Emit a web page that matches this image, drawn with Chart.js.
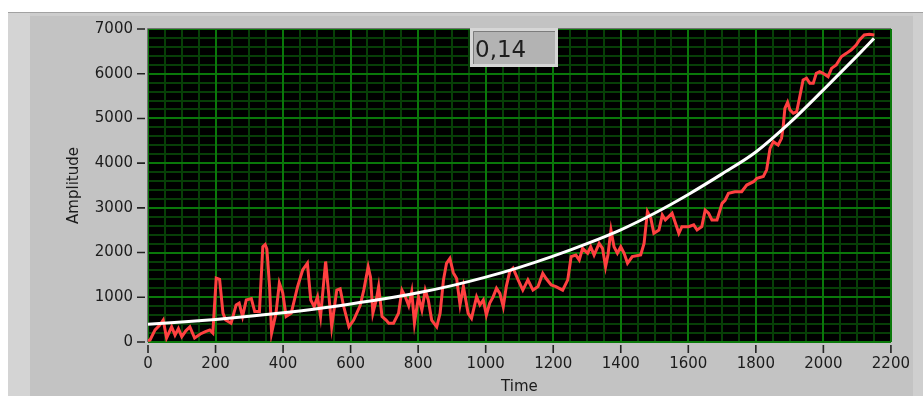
<!DOCTYPE html>
<html>
<head>
<meta charset="utf-8">
<script src="https://cdn.jsdelivr.net/npm/chart.js@4.4.1/dist/chart.umd.min.js"></script>
<style>
  html, body { margin: 0; padding: 0; background: #fff; }
  #wrap { position: relative; width: 923px; height: 396px; overflow: hidden; }
  .panel { position: absolute; }
  #frame { left: 8px; top: 12px; width: 915px; height: 384px; background: #c3c3c3; border-top: 1px solid #a2a2a2; box-sizing: border-box; }
  #stripL { left: 8px; top: 13px; width: 22px; height: 383px; background: #d4d4d4; }
  #stripR { left: 913px; top: 13px; width: 10px; height: 383px; background: #cfcfcf; }
  #stripT { left: 30px; top: 13px; width: 883px; height: 3px; background: #cdcdcd; }
  #chart { position: absolute; left: 0; top: 0; }
</style>
</head>
<body>
<div id="wrap">
  <div id="frame" class="panel"></div>
  <div id="stripL" class="panel"></div>
  <div id="stripR" class="panel"></div>
  <div id="stripT" class="panel"></div>
  <canvas id="chart" width="923" height="396"></canvas>
</div>
<script>
// measured signal (time, amplitude)
const signalTime = [
  0, 6, 21, 35, 45, 55, 70, 80, 90, 100, 112, 124, 138, 155, 170, 183, 192, 202, 212, 222,
  230, 246, 261, 270, 280, 291, 306, 316, 330, 340, 347, 352, 360, 366, 379, 389, 399, 409, 424, 443,
  458, 472, 482, 492, 502, 511, 526, 536, 544, 559, 569, 579, 595, 609, 628, 639, 652, 659, 666, 676,
  683, 693, 705, 713, 727, 742, 752, 762, 772, 781, 789, 801, 811, 821, 830, 840, 855, 865, 875, 884,
  894, 904, 914, 924, 934, 948, 958, 973, 983, 993, 1002, 1012, 1022, 1032, 1042, 1052, 1061, 1071, 1081, 1096,
  1110, 1125, 1140, 1155, 1169, 1179, 1194, 1208, 1228, 1243, 1253, 1267, 1277, 1287, 1302, 1311, 1321, 1336, 1346, 1355,
  1362, 1371, 1380, 1390, 1400, 1410, 1420, 1434, 1459, 1469, 1479, 1489, 1498, 1513, 1523, 1532, 1542, 1552, 1562, 1572,
  1581, 1601, 1616, 1626, 1640, 1650, 1660, 1670, 1685, 1700, 1709, 1719, 1738, 1758, 1773, 1793, 1803, 1822, 1832, 1842,
  1852, 1866, 1876, 1881, 1886, 1894, 1901, 1911, 1921, 1930, 1940, 1950, 1960, 1970, 1979, 1989, 1999, 2014, 2024, 2038,
  2053, 2068, 2082, 2097, 2107, 2121, 2136, 2151
];
const signalAmp = [
  30, 45, 270, 380, 490, 90, 340, 155, 300, 120, 250, 340, 90, 180, 230, 270, 200, 1430, 1400, 645,
  490, 420, 830, 870, 570, 940, 970, 680, 680, 2130, 2180, 2080, 1240, 200, 645, 1320, 1100, 570, 640, 1240,
  1610, 1760, 940, 790, 1010, 570, 1800, 1010, 340, 1160, 1190, 810, 340, 490, 810, 1160, 1680, 1450, 645, 940,
  1240, 570, 490, 420, 420, 645, 1160, 1010, 810, 1125, 420, 1010, 715, 1160, 940, 490, 340, 645, 1390, 1760,
  1870, 1550, 1420, 830, 1240, 640, 530, 1010, 830, 940, 600, 870, 1010, 1200, 1085, 790, 1240, 1570, 1650, 1390,
  1160, 1390, 1160, 1240, 1535, 1420, 1275, 1240, 1160, 1390, 1910, 1945, 1835, 2095, 1985, 2130, 1945, 2205, 2095, 1680,
  1945, 2505, 2130, 1985, 2130, 1985, 1760, 1910, 1945, 2205, 2915, 2765, 2430, 2505, 2840, 2730, 2805, 2880, 2655, 2430,
  2580, 2580, 2620, 2505, 2580, 2950, 2880, 2730, 2730, 3100, 3170, 3325, 3360, 3360, 3510, 3585, 3660, 3700, 3850, 4330,
  4480, 4405, 4555, 4815, 5225, 5360, 5190, 5115, 5150, 5485, 5860, 5900, 5785, 5785, 6010, 6045, 6010, 5935, 6120, 6195,
  6380, 6455, 6530, 6640, 6755, 6865, 6880, 6865
];

// fitted curve
const fitTime = [0, 100, 200, 300, 400, 500, 600, 700, 800, 900, 1000, 1100, 1200, 1300, 1400, 1500, 1600, 1700, 1800, 1900, 2000, 2100, 2150];
const fitAmp = [395, 445, 505, 575, 655, 745, 850, 965, 1100, 1260, 1450, 1670, 1920, 2200, 2510, 2880, 3300, 3760, 4250, 4900, 5640, 6400, 6790];

const fitReadout = '0,14';

const GRID_MAJOR = '#0a780a';
const GRID_MINOR = '#073f07';

function pairs(xs, ys) {
  return xs.map(function (t, i) { return { x: t, y: ys[i] }; });
}

function plainNumber(value) {
  return String(value);
}

Chart.defaults.font.family = "'DejaVu Sans', sans-serif";
Chart.defaults.font.size = 15;
Chart.defaults.color = '#1c1c1c';

const plotPanel = {
  id: 'plotPanel',
  beforeDraw: function (chart) {
    const ctx = chart.ctx;
    const a = chart.chartArea;
    const x = chart.scales.x;
    const y = chart.scales.y;
    ctx.save();
    ctx.fillStyle = '#000';
    ctx.fillRect(a.left, a.top, a.right - a.left, a.bottom - a.top);

    // minor divisions
    ctx.strokeStyle = GRID_MINOR;
    ctx.lineWidth = 2;
    ctx.beginPath();
    for (let t = 50; t < x.max; t += 50) {
      if (t % 200 === 0) continue;
      const px = Math.round(x.getPixelForValue(t));
      ctx.moveTo(px, a.top);
      ctx.lineTo(px, a.bottom);
    }
    for (let v = 200; v < y.max; v += 200) {
      if (v % 1000 === 0) continue;
      const py = Math.round(y.getPixelForValue(v));
      ctx.moveTo(a.left, py);
      ctx.lineTo(a.right, py);
    }
    ctx.stroke();

    // tick dashes, set off from the plot edge
    ctx.strokeStyle = '#222';
    ctx.lineWidth = 1.6;
    ctx.beginPath();
    y.ticks.forEach(function (tk) {
      const py = y.getPixelForValue(tk.value);
      ctx.moveTo(a.left - 11, py);
      ctx.lineTo(a.left - 3, py);
    });
    x.ticks.forEach(function (tk) {
      const px = x.getPixelForValue(tk.value);
      ctx.moveTo(px, a.bottom + 3);
      ctx.lineTo(px, a.bottom + 11);
    });
    ctx.stroke();
    ctx.restore();
  },
  beforeDatasetsDraw: function (chart) {
    const ctx = chart.ctx;
    const a = chart.chartArea;
    ctx.save();
    ctx.strokeStyle = '#707070';
    ctx.lineWidth = 1;
    ctx.beginPath();
    ctx.moveTo(a.left - 0.5, a.bottom);
    ctx.lineTo(a.left - 0.5, a.top - 0.5);
    ctx.lineTo(a.right, a.top - 0.5);
    ctx.stroke();
    ctx.restore();
  },
  afterDraw: function (chart) {
    // numeric readout box
    const ctx = chart.ctx;
    ctx.save();
    ctx.fillStyle = '#d6d6d6';
    ctx.fillRect(470, 28, 88, 39);
    ctx.fillStyle = '#b3b3b3';
    ctx.fillRect(473, 31, 82, 33);
    ctx.strokeStyle = '#7c7c7c';
    ctx.lineWidth = 1;
    ctx.beginPath();
    ctx.moveTo(473.5, 64);
    ctx.lineTo(473.5, 31.5);
    ctx.lineTo(555, 31.5);
    ctx.stroke();
    ctx.fillStyle = '#1e1e1e';
    ctx.font = "23px 'DejaVu Sans', sans-serif";
    ctx.textBaseline = 'alphabetic';
    ctx.fillText(fitReadout, 475, 57);
    ctx.restore();
  }
};

new Chart(document.getElementById('chart'), {
  type: 'line',
  data: {
    datasets: [
      { label: 'Fit', data: pairs(fitTime, fitAmp), borderColor: '#ffffff', borderWidth: 3, pointRadius: 0, cubicInterpolationMode: 'monotone', fill: false },
      { label: 'Signal', data: pairs(signalTime, signalAmp), borderColor: '#ff4040', borderWidth: 3, pointRadius: 0, tension: 0, fill: false }
    ]
  },
  options: {
    responsive: false,
    animation: false,
    layout: { padding: { left: 65, top: 29, right: 28, bottom: 0 } },
    plugins: { legend: { display: false }, tooltip: { enabled: false } },
    scales: {
      x: {
        type: 'linear',
        min: 0,
        max: 2200,
        ticks: { stepSize: 200, padding: 13, maxRotation: 0, autoSkip: false, callback: plainNumber },
        grid: { color: GRID_MAJOR, lineWidth: 2, drawTicks: false },
        border: { display: false },
        title: { display: true, text: 'Time', padding: { top: 0, bottom: 0 } },
        afterFit: function (scale) { scale.height = 54; }
      },
      y: {
        min: 0,
        max: 7000,
        ticks: { stepSize: 1000, padding: 15, callback: plainNumber },
        grid: { color: GRID_MAJOR, lineWidth: 2, drawTicks: false },
        border: { display: false },
        title: { display: true, text: 'Amplitude', padding: { top: 0, bottom: 0 } },
        afterFit: function (scale) { scale.width = 83; }
      }
    }
  },
  plugins: [plotPanel]
});
</script>
</body>
</html>
